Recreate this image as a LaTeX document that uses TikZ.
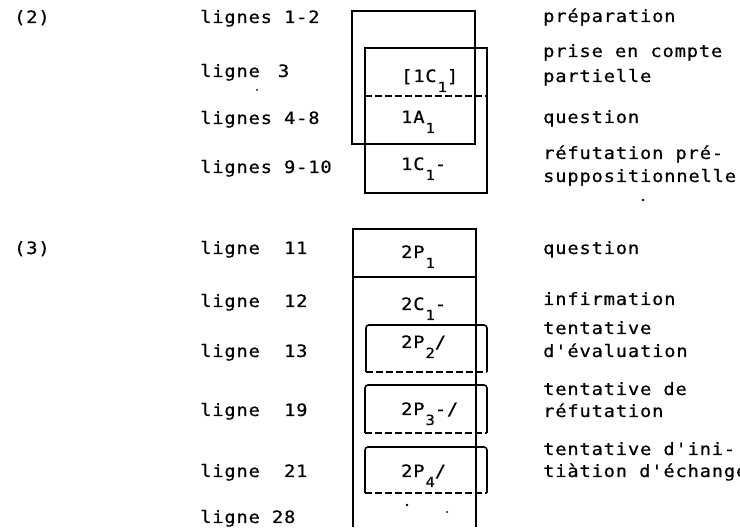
\documentclass[tikz,border=0pt]{standalone}
\usepackage{fontspec}
\newfontfamily\tw[FakeStretch=1.1,LetterSpace=5,FakeBold=0.6]{DejaVu Sans Mono}
\newcommand\sbs[1]{\hspace{1pt}\raisebox{-10pt}{\fontsize{14}{14}\selectfont #1}}
\tikzset{
  lbl/.style={anchor=base west, inner sep=0pt, font=\fontsize{17}{17}\selectfont\tw},
  boxline/.style={draw, line width=1.6pt},
  dashline/.style={draw, line width=1.6pt, dash pattern=on 7pt off 3pt},
  speck/.style={fill=black}
}
\begin{document}
\begin{tikzpicture}[x=1pt,y=-1pt]
\useasboundingbox (0,0) rectangle (740,529);
% left column
\node[lbl] (n2) at (14,23) {(2)};
\node[lbl] (n3) at (14,254) {(3)};
\node[lbl] (l12) at (200,23) {lignes 1-2};
\node[lbl] (l3) at (200,77) {ligne~\hspace{6pt}3};
\node[lbl] (l48) at (200,124) {lignes 4-8};
\node[lbl] (l910) at (200,173) {lignes 9-10};
\node[lbl] (l11) at (200,254) {ligne~~11};
\node[lbl] (l12b) at (200,307) {ligne~~12};
\node[lbl] (l13) at (200,357) {ligne~~13};
\node[lbl] (l19) at (200,416) {ligne~~19};
\node[lbl] (l21) at (200,477) {ligne~~21};
\node[lbl] (l28) at (200,523) {ligne 28};
% right column
\node[lbl] (r1) at (543,22) {préparation};
\node[lbl] (r2) at (543,57) {prise en compte};
\node[lbl] (r2b) at (543,82) {partielle};
\node[lbl] (r3) at (543,123) {question};
\node[lbl] (r4) at (543,159) {réfutation pré-};
\node[lbl] (r4b) at (543,182) {suppositionnelle};
\node[lbl] (r5) at (543,254) {question};
\node[lbl] (r6) at (543,305) {infirmation};
\node[lbl] (r7) at (543,334) {tentative};
\node[lbl] (r7b) at (543,357) {d'évaluation};
\node[lbl] (r8) at (543,395) {tentative de};
\node[lbl] (r8b) at (543,417) {réfutation};
\node[lbl] (r9) at (543,455) {tentative d'ini-};
\node[lbl] (r9b) at (543,477) {tiàtion d'échange};
% boxes of (2)
\draw[boxline] (352,11) rectangle (475,144);
\draw[boxline] (365,48) rectangle (487,193);
\draw[dashline] (365,96) -- (487,96);
\node[lbl] (b1) at (401,82) {[1C\sbs{1}]};
\node[lbl] (b2) at (401,123) {1A\sbs{1}};
\node[lbl] (b3) at (401,170) {1C\sbs{1}-};
% boxes of (3)
\draw[boxline] (353,527) -- (353,229) -- (476,229) -- (476,527);
\draw[boxline] (353,277) -- (476,277);
\node[lbl] (c1) at (401,258) {2P\sbs{1}};
\node[lbl] (c2) at (401,310) {2C\sbs{1}-};
\draw[boxline, rounded corners=3pt] (366,372) -- (366,325) -- (487,325) -- (487,372);
\draw[dashline] (366,372) -- (487,372);
\node[lbl] (c3) at (401,348) {2P\sbs{2}/};
\draw[boxline, rounded corners=3pt] (365,433) -- (365,385) -- (487,385) -- (487,433);
\draw[dashline] (365,433) -- (487,433);
\node[lbl] (c4) at (401,415) {2P\sbs{3}-/};
\draw[boxline, rounded corners=3pt] (365,493) -- (365,447) -- (487,447) -- (487,493);
\draw[dashline] (365,493) -- (487,493);
\node[lbl] (c5) at (401,477) {2P\sbs{4}/};
% specks
\fill[speck] (257,90) circle (1);
\fill[speck] (643,200) circle (1.3);
\fill[speck] (407,505) circle (1.3);
\fill[speck] (447,512) circle (1);
\end{tikzpicture}
\end{document}
